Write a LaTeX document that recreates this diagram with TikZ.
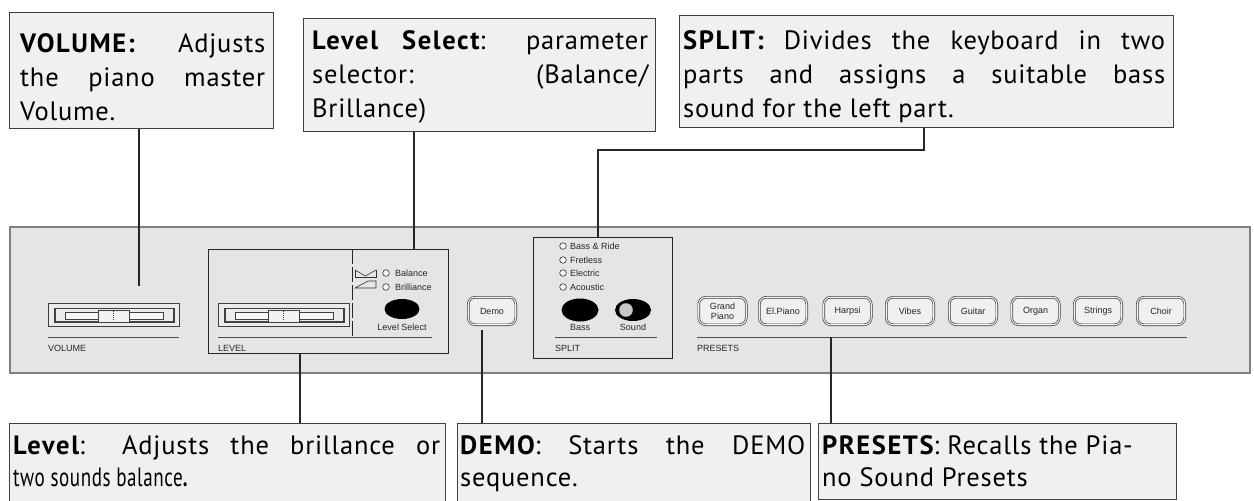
\documentclass[tikz,border=0pt]{standalone}
\usepackage{fontspec}
\usepackage{graphicx}
\setmainfont{PT Sans}
\newfontfamily\cfont[LetterSpace=3]{PT Sans}
\newfontfamily\pfont{Liberation Sans}
\usetikzlibrary{shapes.geometric}
\newcommand\sline[1]{\makebox[\linewidth][s]{#1}\\}
\newcommand\ctxt[3]{\parbox[t]{#1}{\cfont\fontsize{26.5}{#2}\selectfont #3}}
\newcommand\bt[1]{{\addfontfeature{LetterSpace=6}\bfseries #1}}
\begin{document}
\begin{tikzpicture}[x=1pt,y=-1pt,
  callout/.style={draw=black!75, fill=black!6, line width=1.1pt, inner sep=0pt, anchor=north west},
  ctext/.style={inner sep=0pt, anchor=base west},
  conn/.style={draw=black!85, line width=1.1pt},
  pline/.style={draw=black!70, line width=0.8pt},
  plabel/.style={font=\pfont\fontsize{9}{10}\selectfont, inner sep=0pt, text=black!85},
  btn/.style={draw=black!75, double=black!6, double distance=1.1pt, line width=0.7pt,
    fill=black!6, rounded corners=7pt, minimum width=47.5pt, minimum height=27.5pt,
    inner sep=0pt, align=center, font=\pfont\fontsize{9}{10}\selectfont, text=black!85},
  led/.style={draw=black!80, line width=0.6pt, fill=black!3},
  sl/.style={draw=black!75, line width=0.8pt}]
\useasboundingbox (0,0) rectangle (1254,501);

% ---------- panel ----------
\draw[draw=black!50, line width=2.5pt, fill=black!10] (10,227) rectangle (1250,373);

% sliders
\foreach \dx in {0,170}{
  \draw[sl, fill=black!8] ({48+\dx},303) rectangle ({179+\dx},326);
  \draw[sl, line width=1.4pt] ({55+\dx},308.5) rectangle ({174+\dx},322);
  \draw[sl, line width=0.7pt, fill=black!3] ({65+\dx},312) rectangle ({163+\dx},319);
  \draw[sl, fill=black!5] ({98+\dx},310) rectangle ({129+\dx},322);
  \draw[black!80, line width=0.8pt, dash pattern=on 1pt off 1pt] ({113.5+\dx},311) -- ({113.5+\dx},321);
}
\draw[pline] (48,337) -- (179,337);
\node[plabel, anchor=west] (lvol) at (48,348) {VOLUME};

% level section
\node[draw=black!85, line width=1pt, minimum width=240pt, minimum height=104pt, anchor=north west, inner sep=0pt] (lvlpanel) at (208,249) {};
\draw[black!85, line width=0.9pt, dash pattern=on 15pt off 3pt] (352,249) -- (352,338);
\draw[pline] (218,337) -- (432,337);
\node[plabel, anchor=west] (llvl) at (218,348) {LEVEL};
\draw[black!80, line width=0.6pt] (355,270) -- (355,277) -- (376,277) -- (376,270);
\draw[black!80, line width=0.6pt] (355,270) -- (365.5,276) -- (376,270);
\draw[black!80, line width=0.6pt] (355,288) -- (376,288) -- (376,281) -- (368,281) -- cycle;
\draw[led] (386,273) circle (3.3);
\draw[led] (386,287) circle (3.3);
\node[plabel, anchor=west] (lbal) at (395,273) {Balance};
\node[plabel, anchor=west] (lbri) at (395,287) {Brilliance};
\node[ellipse, fill=black, minimum width=35pt, minimum height=20pt, inner sep=0pt] (lselbtn) at (402,309) {};
\node[plabel] (llsel) at (402,327) {Level Select};

% demo
\node[btn] (demo) at (492,311) {Demo};

% split section
\node[draw=black!85, line width=1pt, minimum width=139pt, minimum height=121pt, anchor=north west, inner sep=0pt] (splitpanel) at (533,237) {};
\foreach \yy/\tt [count=\i] in {246/Bass \& Ride, 260/Fretless, 273/Electric, 287/Acoustic}{
  \draw[led] (563,\yy) circle (3.3);
  \node[plabel, anchor=west] (sp\i) at (570,\yy) {\tt};
}
\node[ellipse, fill=black, minimum width=37pt, minimum height=23pt, inner sep=0pt] (bassbtn) at (580,310) {};
\node[ellipse, fill=black, minimum width=36pt, minimum height=22pt, inner sep=0pt] (soundbtn) at (633,310) {};
\fill[black!22] (626,310) circle (6.8);
\node[plabel] (lbass) at (580,327) {Bass};
\node[plabel] (lsound) at (633,327) {Sound};
\draw[pline] (555,337) -- (657,337);
\node[plabel, anchor=west] (lsplit) at (555,348) {SPLIT};

% presets
\node[btn] (grand) at (722.5,311) {Grand\\Piano};
\node[btn] (elpiano) at (783,311) {El.Piano};
\node[btn] (harpsi) at (847.5,311) {Harpsi};
\node[btn] (vibes) at (910,311) {Vibes};
\node[btn] (guitar) at (973,311) {Guitar};
\node[btn] (organ) at (1035.5,311) {Organ};
\node[btn] (strings) at (1098,311) {Strings};
\node[btn] (choir) at (1161,311) {Choir};
\draw[pline] (697,337) -- (1187,337);
\node[plabel, anchor=west] (lpre) at (697,348) {PRESETS};

% ---------- top callouts ----------
\node[callout, minimum width=264pt, minimum height=116pt] (volbox) at (9,12) {};
\node[ctext] (voltext) at (20,52) {\ctxt{245pt}{34}{\sline{\bt{VOLUME:} Adjusts}\sline{the piano master}Volume.}};

\node[callout, minimum width=352pt, minimum height=113pt] (lselbox) at (303,18) {};
\node[ctext] (lseltext) at (312,49) {\ctxt{336pt}{34}{\sline{\bt{Level Select}: parameter}\sline{selector: (Balance/}Brillance)}};

\node[callout, minimum width=494pt, minimum height=112pt] (splitbox) at (679,15) {};
\node[ctext] (splittext) at (683,49) {\ctxt{482pt}{34}{\sline{\bt{SPLIT:} Divides the keyboard in two}\sline{parts and assigns a suitable bass}sound for the left part.}};

% ---------- bottom callouts ----------
\node[callout, minimum width=436pt, minimum height=80pt] (levelbox) at (9,423) {};
\node[ctext] (leveltext) at (13,454) {\ctxt{427pt}{32}{\sline{\bt{Level}: Adjusts the brillance or}\scalebox{0.72}[1]{two sounds balance\textbf{.}}}};

\node[callout, minimum width=353pt, minimum height=80pt] (demobox) at (457,423) {};
\node[ctext] (demotext) at (460,454) {\ctxt{345pt}{32}{\sline{\bt{DEMO}: Starts the DEMO}sequence.}};

\node[callout, minimum width=358pt, minimum height=76pt] (prebox) at (818,423) {};
\node[ctext] (pretext) at (822,454) {\ctxt{345pt}{32}{\bt{PRESETS}: Recalls the Pia-\\no Sound Presets}};

% ---------- connectors ----------
\coordinate (volend) at (139,286);
\draw[conn] (volbox.south -| volend) -- (volend);
\draw[conn] (414,0 |- lselbox.south) -- (414,0 |- lvlpanel.north);
\coordinate (splitbend) at (924,150);
\draw[conn] (splitbox.south -| splitbend) -- (splitbend) -- (598,150) -- (598,0 |- splitpanel.north);
\draw[conn] (300,0 |- lvlpanel.south) -- (300,0 |- levelbox.north);
\coordinate (demoend) at (482,330);
\draw[conn] (demoend) -- (demobox.north -| demoend);
\coordinate (preend) at (831,337);
\draw[conn] (preend) -- (prebox.north -| preend);
\end{tikzpicture}
\end{document}
